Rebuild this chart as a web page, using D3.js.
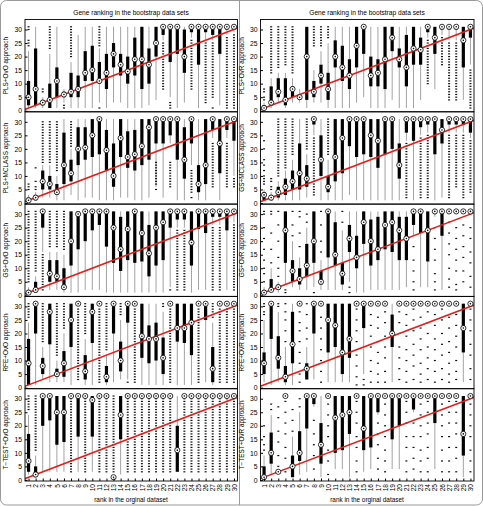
<!DOCTYPE html>
<html><head><meta charset="utf-8">
<script src="https://cdn.jsdelivr.net/npm/d3@7"></script>
<style>body{margin:0;background:#fff}text{font-family:"Liberation Sans",Arial,sans-serif}</style>
</head><body>
<svg id="c" width="483" height="506"></svg>
<script>
// ---------- data ----------
const rankLabels = ["1","2","3","4","5","6","7","8","9","10","11","12","13","14","15","16","17","18","19","20","21","22","23","24","25","26","27","28","29","30"];
const yTicks = [0,5,10,15,20,25,30];
const colTitle = "Gene ranking in the bootstrap data sets";
const xLabelText = "rank in the orginal dataset";
const leftLabels = ["PLS+OvO approach","PLS+MCLASS approach","GS+OvO approach","RFE+OvO approach","T\u2212TEST+OvO approach"];
const rightLabels = ["PLS+OvR approach","GS+MCLASS approach","GS+OvR approach","RFE+OvR approach","T\u2212TEST+OvR approach"];
// each box: "whiskerLow,q1,median,q3,whiskerHigh|outlier ranks (a-b = every integer rank a..b)"
const plsOvO = ["1,2,5,11,22|24-26,30,31","1,2,8,23,31|","1,2,3,4,5|7,8","1,1,4,10,21|23-31","1,5,11,16,31|","3,5,6,7,8|1,2","1,5,7,14,18|20-31","1,5,8,13,28|","1,11,14,22,31|","1,11,15,24,31|","3,10,11,18,23|1,24-31","1,8,14,21,31|","3,16,21,25,31|","3,13,17,21,31|","1,10,14.5,20,31|","1,13,19,27,31|","1,8,19,31,31|","2,10,17,23,31|","4,20,25,31,31|","26,28,31,31,31|8-25","5,18,31,31,31|1-3","1,21,31,31,31|","3,14,20,30,31|","27,29,31,31,31|8-26","1,17,31,31,31|","26,29,31,31,31|3-25","26,28,31,31,31|1,5-25","2,21,31,31,31|","28,30,31,31,31|1-27","29,30,31,31,31|1-28"];
const plsOvR = ["1,1,1,2,3|4,5,7,8","1,3,3,9,12|14-31","3,5,7,12,14|16-31","1,2,4,12,14|17-31","3,5,8,9,12|14-31","3,4,5,6,8|","1,4,20,31,31|","3,5,7,11,15|24-31","3,10,13,17,22|24-31","1,4,8,14,25|27-31","1,16,20,26,31|","1,11,16,24,31|","1,8,13,19,31|","3,16,24,31,31|","5,21,31,31,31|","1,9,13,20,31|","1,9,14,19,31|","1,8,19,31,31|","4,22,27,31,31|","1,16,19,23,31|","1,9,16,28,31|","1,17,23,31,31|","4,17,22.5,27,31|","27,29,31,31,31|10-26","8,21,27,31,31|","28,30,31,31,31|17-27","26,30,31,31,31|4-25","26,30,31,31,31|4-25","4,16,26,31,31|","17,27,31,31,31|1-15"];
const plsMclass = ["1,1,1,2,3|5-7","1,1,2,3,4|5,6,8,13","2,5,8,12,14|15-30","2,5,7,10,14|15-30","1,3,4,7,10|12-30","1,7,14,26,31|","3,8,11,16,20|21-30","1,14,20,28,31|","2,16,20.5,28,31|","2,17,25,31,31|","1,18,31,31,31|","1,12,19.5,27,31|","1,6,10,22,31|","2,17,24,31,31|","2,13,17,26.5,31|","1,12,18,27,31|","1,14,21,31,31|","2,16,28,31,31|","6,22,31,31,31|5,7-15","2,22,31,31,31|","22,25,31,31,31|6-15","1,16,31,31,31|","1,9,16,28,31|","14,22,31,31,31|2,4-12","1,4,7,14,31|","1,7,14,31,31|","24,27,31,31,31|6-22","1,11,22,31,31|","24,27,31,31,31|6-22","10,23,31,31,31|6-9"];
const gsMclass = ["1,1,3,4,5|7-10,12,14,16,20,23","1,1,2,3,4|5,6,8,9","1,2,4,6,8|10-31","1,3,6,9,12|13-31","1,5,8,12,16|18-31","1,5,11,22,31|","2,6,9,14,18|20-31","25,29,31,31,31|3-24","1,10,16,25,31|","1,4,6,10,16|18-31","1,8,17,31,31|","1,11,24,31,31|","3,21,31,31,31|","1,17,31,31,31|","1,18,31,31,31|","1,17,25,31,31|","1,13,23,31,31|","1,18,31,31,31|","1,20,31,31,31|","1,9,14,22,31|","23,26,31,31,31|2-22","1,23,31,31,31|","25,28,31,31,31|2-24","26,29,31,31,31|2-25","1,18,31,31,31|","2,22,27,31,31|","26,29,31,31,31|2-25","26,29,31,31,31|6-25","26,29,31,31,31|2-25","24,26,31,31,31|4-23"];
const gsOvO = ["1,1,1,2,3|5-31","1,1,2,5,7|9-31","16,25,31,31,31|2-15","2,5,8,13,16|18-31","2,5,7,13,16|18-31","1,3,3,10,15|17-31","1,11,20,31,31|","1,17,30,31,31|","2,20,31,31,31|","2,24,31,31,31|","2,26,31,31,31|","1,18,31,31,31|","1,12,25,31,31|","1,9,17,29,31|","1,13,24.5,31,31|","1,12,31,31,31|","1,12.5,23,31,31|","1,7,15.5,26,31|","1,11,25,31,31|","1,13,27,31,31|","3,25,31,31,31|2","25,28,31,31,31|2-24","25,28,31,31,31|2-24","1,11,19.5,31,31|","2,24.5,31,31,31|","2,23,31,31,31|","26,29,31,31,31|2-25","26,29,31,31,31|2-25","2,24,31,31,31|","27,30,31,31,31|2-26"];
const gsOvR = ["1,1,1,2,3|5,8,10,13,17,21,25,30,31","1,2,2,6,10|12,17,23,30,31","1,2,3,4,5|7,10,14,20,26,31","4,12,24,31,31|1,2","3,5,9,13,20|22,26,31","2,4,6,10,14|18,23,29,31","2,7,11,19,25|27,30","3,12,20,31,31|1","2,4,5,9,13|16,20,26,31","2,14,31,31,31|","2,11,15,27,31|","2,4,8,12,24|27,31","5,16,21,26,31|1,3","1,10,14,22,31|","1,19,27,31,31|","2,11,20,28,31|","2,13,17,29,31|","2,17,26,31,31|","2,16,27,31,31|","2,13,24,29,31|","3,13,21,29,31|","22,26,31,31,31|2,5,9,13,18","3,23,31,31,31|","3,12.5,24,31,31|","29,30,31,31,31|2,5,8,13,17,21,25","2,22,31,31,31|","31,31,31,31,31|3,6,10,15,19,23,27","31,31,31,31,31|2,4,9,13,17,21,25","31,31,31,31,31|5,9,14,18,22,26","31,31,31,31,31|3,7,12,16,21,25"];
const rfeOvO = ["1,1,9,18,24|26-31","1,20,31,31,31|","3,5,8,11,15|17-31","2,16,28,31,31|","2,4,5,7,10|12-31","2,4,9,13.5,20|22-31","1,15,25,31,31|","31,31,31,31,31|3-29","1,3,6,12,18|20-31","1,16.5,28,31,31|","31,31,31,31,31|2-29","1,2,4,8,12|14-31","2,20,31,31,31|","3,6,10,17,25|27-31","3,24,31,31,31|2","31,31,31,31,31|2-29","1,11,19,31,31|","1,9,18,23,31|","1,10,18,24,31|","1,5,11,18.5,28|30,31","31,31,31,31,31|2-29","1,17,22,31,31|","1,16.5,22,31,31|","1,12,24,31,31|","31,31,31,31,31|2-29","2,25,31,31,31|","1,2,7,15,24|26-31","31,31,31,31,31|2-29","31,31,31,31,31|2-29","31,31,31,31,31|2-29"];
const rfeOvR = ["2,5,9,13,25|27,28,30,31","1,18,31,31,31|","2,7,11,19,28|30,31","1,2,4,8,15|17,21,25,28,31","1,9,16,28,31|","31,31,31,31,31|2,5,9,13,17,21,24,28","3,3,7,9,15|18,22,27,31","3,20,31,31,31|","31,31,31,31,31|2,6,10,14,18,22,26","2,13,25,31,31|","2,15,23,31,31|","2,5,13,31,31|","2,11,18,31,31|","31,31,31,31,31|1,4,8,12,17,21,25,29","5,22,31,31,31|1,3","31,31,31,31,31|2,6,10,15,19,23,27","31,31,31,31,31|2,5,9,13,17,22,26","31,31,31,31,31|2,6,11,15,19,24,28","2,15,20,27,31|","31,31,31,31,31|3,7,11,15,20,24,28","31,31,31,31,31|2,6,10,14,19,23,27","31,31,31,31,31|3,8,12,16,21,25,29","31,31,31,31,31|2,5,9,14,18,22,26","31,31,31,31,31|3,7,11,15,20,24,28","31,31,31,31,31|2,6,10,14,18,23,27","31,31,31,31,31|3,7,12,16,20,25,29","31,31,31,31,31|2,5,9,13,17,22,26","31,31,31,31,31|3,6,10,15,19,23,27","2,13,22,31,31|","31,31,31,31,31|3,7,12,16,21,25,29"];
const ttestOvO = ["2,3,7,17,24|26-31","1,1,2,5,9|11-31","3,20,31,31,31|","3,22,31,31,31|","3,13,25,31,31|","3,14,25,31,31|","31,31,31,31,31|3-30","3,16,31,31,31|","31,31,31,31,31|3-30","3,16,29.5,31,31|","31,31,31,31,31|3-30","31,31,31,31,31|3-30","1,1,1,1,1|3-31","2,15,24,31,31|","31,31,31,31,31|3-30","31,31,31,31,31|3-30","31,31,31,31,31|3-30","31,31,31,31,31|3-30","31,31,31,31,31|3-30","31,31,31,31,31|3-30","31,31,31,31,31|3-30","3,3,11,20,31|","31,31,31,31,31|3-30","31,31,31,31,31|3-30","31,31,31,31,31|3-30","31,31,31,31,31|3-30","31,31,31,31,31|3-30","31,31,31,31,31|3-30","31,31,31,31,31|3-30","31,31,31,31,31|3-30"];
const ttestOvR = ["1,1,1,5,9|11,13,16,20","2,6,10,17.5,24|26,28","3,3,3,3,3|5,9,14,18,23,27","31,31,31,31,31|3,8,12,17,21,25,29","1,1,5,9,16|18,22,26","2,7,10,18,25|27,30","3,19,31,31,31|","27,28,31,31,31|4,9,13,17,22","1,6,13,21,31|","31,31,31,31,31|2,7,11,16,20,24,28","4,10,23,31,31|","4,11,24,31,31|","1,17,25,31,31|","31,31,31,31,31|3,7,12,16,21,25,29","3,11,19,31,31|","4,12,31,31,31|","24,25,31,31,31|4,8,13,17,21","31,31,31,31,31|3,7,11,16,20,24,28","4,15,31,31,31|","4,20,31,31,31|","31,31,31,31,31|3,7,12,16,21,25,29","25,26,31,31,31|4,8,12,16,21","31,31,31,31,31|3,7,11,16,20,24,28","31,31,31,31,31|3,8,12,17,21,25,29","4,21,31,31,31|","31,31,31,31,31|3,7,11,16,20,24,28","31,31,31,31,31|3,7,12,16,21,25,29","31,31,31,31,31|3,8,12,17,21,25,29","1,9,17,31,31|","31,31,31,31,31|3,7,11,16,20,24,28"];

const leftPanels = [plsOvO, plsMclass, gsOvO, rfeOvO, ttestOvO];
const rightPanels = [plsOvR, gsMclass, gsOvR, rfeOvR, ttestOvR];

// ---------- helpers ----------
function parseBox(s){
  const [main,out] = s.split("|");
  const [lo,q1,med,q3,hi] = main.split(",").map(Number);
  const outs = [];
  if(out){ out.split(",").forEach(t=>{ if(t.includes("-")){const [a,b]=t.split("-").map(Number); for(let v=a;v<=b;v++) outs.push(v);} else outs.push(+t); }); }
  return {lo,q1,med,q3,hi,outs};
}

const svg = d3.select("#c");
svg.append("rect").attr("x",0.5).attr("y",0.5).attr("width",482).attr("height",504.5).attr("rx",6)
  .attr("fill","none").attr("stroke","#9a9a9a").attr("stroke-width",1);
svg.append("line").attr("x1",239.5).attr("x2",239.5).attr("y1",0.5).attr("y2",505).attr("stroke","#9a9a9a");

const cols = [{x0:25,x1:237.5,labels:leftLabels,panels:leftPanels,cx:131},{x0:260.5,x1:474,labels:rightLabels,panels:rightPanels,cx:367}];
const rowTop0 = 19.5, rowH = 92.3;
const ranks = rankLabels.map(Number);

cols.forEach((col,ci)=>{
  const x = d3.scaleLinear().domain([0.5,30.5]).range([col.x0,col.x1]);
  svg.append("text").attr("x",col.cx).attr("y",15).attr("text-anchor","middle").attr("font-size",6.6).text(colTitle);
  col.panels.forEach((panel,ri)=>{
    const top = rowTop0 + ri*rowH, bot = top + rowH;
    const y = d3.scaleLinear().domain([-0.4,33.7]).range([bot,top]);
    const g = svg.append("g");
    const clipId = "clip"+ci+"_"+ri;
    g.append("clipPath").attr("id",clipId).append("rect").attr("x",col.x0).attr("y",top).attr("width",col.x1-col.x0).attr("height",rowH);
    const pg = g.append("g").attr("clip-path","url(#"+clipId+")");
    const boxes = panel.map(parseBox);
    boxes.forEach((b,i)=>{
      const cx = x(ranks[i]);
      if(b.hi>b.lo) pg.append("line").attr("x1",cx).attr("x2",cx).attr("y1",y(b.lo)).attr("y2",y(b.hi)).attr("stroke","#a3a3a3").attr("stroke-width",1);
      b.outs.forEach(v=>{
        pg.append("rect").attr("x",cx-1).attr("y",y(v)-0.6).attr("width",2).attr("height",1.2).attr("fill","#111");
      });
      if(b.q3>b.q1){
        const yt = y(b.q3), yb = y(b.q1);
        pg.append("rect").attr("x",cx-1.6).attr("width",3.2).attr("y",yt).attr("height",yb-yt).attr("fill","#000");
      }
    });
    // reference line y = x
    pg.append("line").attr("x1",x(0)).attr("y1",y(0)).attr("x2",x(31)).attr("y2",y(31)).attr("stroke","#e0201b").attr("stroke-width",1.6);
    boxes.forEach((b,i)=>{
      const cx = x(ranks[i]);
      pg.append("circle").attr("cx",cx).attr("cy",y(b.med)).attr("r",2.6).attr("fill","#fff").attr("stroke","#000").attr("stroke-width",0.8);
      pg.append("circle").attr("cx",cx).attr("cy",y(b.med)).attr("r",0.8).attr("fill","#000");
    });
    // frame
    g.append("rect").attr("x",col.x0).attr("y",top).attr("width",col.x1-col.x0).attr("height",rowH).attr("fill","none").attr("stroke","#000").attr("stroke-width",0.9);
    // y axis
    const ya = g.append("g").attr("transform","translate("+col.x0+",0)").call(d3.axisLeft(y).tickValues(yTicks).tickSize(-2.5).tickPadding(3));
    ya.select(".domain").remove();
    ya.selectAll("text").attr("font-size",6.8).attr("font-family","Liberation Sans, Arial, sans-serif").attr("fill","#000");
    ya.selectAll("line").attr("stroke","#000");
    // y label
    g.append("text").attr("transform","translate("+(col.x0-17)+","+((top+bot)/2)+") rotate(-90)").attr("text-anchor","middle").attr("font-size",6.4).text(col.labels[ri]);
    if(ri===col.panels.length-1){
      const xa = g.append("g").attr("transform","translate(0,"+bot+")").call(d3.axisBottom(x).tickValues(ranks).tickFormat((d,i)=>rankLabels[i]).tickSize(-2.5).tickPadding(3));
      xa.select(".domain").remove();
      xa.selectAll("line").attr("stroke","#000");
      xa.selectAll("text").attr("font-size",6.6).attr("font-family","Liberation Sans, Arial, sans-serif").attr("fill","#000")
        .attr("transform","rotate(-90)").attr("text-anchor","end").attr("dy","0.32em").attr("x",-3).attr("y",0);
      g.append("text").attr("x",col.cx).attr("y",502).attr("text-anchor","middle").attr("font-size",6.4).text(xLabelText);
    }
  });
});
</script>
</body></html>
